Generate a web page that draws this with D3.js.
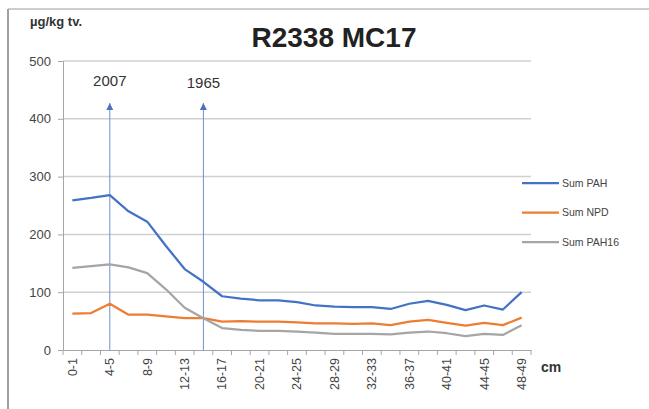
<!DOCTYPE html>
<html>
<head>
<meta charset="utf-8">
<script src="https://cdn.jsdelivr.net/npm/d3@7"></script>
<style>
  body { margin: 0; background: #fff; }
  svg { font-family: "Liberation Sans", Arial, sans-serif; }
</style>
</head>
<body>
<div class="chart"></div>
<script>
// depth intervals (cm)
const categories = ['0-1', '2-3', '4-5', '6-7', '8-9', '10-11', '12-13', '14-15', '16-17', '18-19',
  '20-21', '22-23', '24-25', '26-27', '28-29', '30-31', '32-33', '34-35', '36-37', '38-39',
  '40-41', '42-43', '44-45', '46-47', '48-49'];

// µg/kg tv.
const sumPAH = [259, 263, 268, 240, 222, 180, 140, 118, 93, 89, 86, 86, 83, 77, 75, 74, 74, 71, 80, 85, 78, 69, 77, 70, 100];
const sumNPD = [63, 64, 80, 61, 61, 58, 55, 55, 49, 50, 49, 49, 48, 46, 46, 45, 46, 43, 49, 52, 47, 42, 47, 43, 56];
const sumPAH16 = [142, 145, 148, 143, 133, 105, 73, 55, 38, 35, 33, 33, 32, 30, 28, 28, 28, 27, 30, 32, 29, 24, 28, 26, 43];

const yTicks = [0, 100, 200, 300, 400, 500];
const xLabels = categories.filter((d, i) => i % 2 === 0);

// dating markers
const markers = [{ cat: '4-5', label: '2007' }, { cat: '14-15', label: '1965' }];

const seriesNames = ['Sum PAH', 'Sum NPD', 'Sum PAH16'];
const seriesData = [sumPAH, sumNPD, sumPAH16];
const colors = ['#4472c4', '#ed7d31', '#a5a5a5'];

const width = 649;
const height = 409;
const plotLeft = 63, plotRight = 531, plotTop = 61, plotBottom = 350;

const svg = d3.select('.chart')
  .append('svg')
  .attr('width', width)
  .attr('height', height);

// frame
svg.append('line').attr('x1', 8).attr('x2', width).attr('y1', 9).attr('y2', 9)
  .attr('stroke', '#bdbdbd').attr('stroke-width', 1.5);
svg.append('line').attr('x1', 8).attr('x2', 8).attr('y1', 9).attr('y2', height)
  .attr('stroke', '#a0a0a0').attr('stroke-width', 2);

const xScale = d3.scaleBand()
  .domain(categories)
  .range([plotLeft, plotRight]);

const yScale = d3.scaleLinear()
  .domain([0, 500])
  .range([plotBottom, plotTop]);

// grid
svg.append('g')
  .selectAll('line')
  .data(yTicks.filter(d => d > 0))
  .join('line')
  .attr('x1', plotLeft)
  .attr('x2', plotRight)
  .attr('y1', d => yScale(d))
  .attr('y2', d => yScale(d))
  .attr('stroke', '#d0d0d0')
  .attr('stroke-width', 1.5);

// Y axis
const yAxis = svg.append('g')
  .attr('transform', `translate(${plotLeft}, 0)`)
  .call(d3.axisLeft(yScale).tickValues(yTicks).tickSize(5).tickPadding(7));
yAxis.selectAll('line, path').attr('stroke', '#a6a6a6');
yAxis.selectAll('text').attr('font-size', 13).attr('fill', '#444');

// X axis with ticks at category boundaries
const xAxis = svg.append('g')
  .attr('transform', `translate(0, ${plotBottom})`)
  .call(d3.axisBottom(xScale).tickValues(xLabels).tickSize(0).tickPadding(0));
xAxis.select('path').attr('stroke', '#a6a6a6').attr('stroke-width', 1.2);
xAxis.selectAll('text')
  .attr('font-size', 12.5)
  .attr('fill', '#444')
  .attr('text-anchor', 'end')
  .attr('transform', 'rotate(-90)')
  .attr('x', -8)
  .attr('y', 0)
  .attr('dy', '0.35em');

svg.append('g')
  .selectAll('line')
  .data(categories.concat(['end']))
  .join('line')
  .attr('x1', (d, i) => plotLeft + i * xScale.bandwidth())
  .attr('x2', (d, i) => plotLeft + i * xScale.bandwidth())
  .attr('y1', plotBottom)
  .attr('y2', plotBottom + 5)
  .attr('stroke', '#a6a6a6');

svg.append('text')
  .attr('x', 541)
  .attr('y', 372)
  .attr('font-size', 14)
  .attr('font-weight', 'bold')
  .attr('fill', '#333')
  .text('cm');

// marker lines with arrows
svg.append('defs').append('marker')
  .attr('id', 'arrow')
  .attr('viewBox', '0 0 10 10')
  .attr('refX', 5).attr('refY', 0)
  .attr('markerWidth', 7).attr('markerHeight', 8)
  .attr('markerUnits', 'userSpaceOnUse')
  .attr('orient', '0')
  .append('path')
  .attr('d', 'M0,10 L5,0 L10,10 Z')
  .attr('fill', '#4a72c0');

const markerX = d => xScale(d.cat) + xScale.bandwidth() / 2;

svg.append('g')
  .selectAll('line')
  .data(markers)
  .join('line')
  .attr('x1', markerX)
  .attr('x2', markerX)
  .attr('y1', plotBottom)
  .attr('y2', 103)
  .attr('stroke', '#6f8fcf')
  .attr('stroke-width', 1)
  .attr('marker-end', 'url(#arrow)');

svg.append('g')
  .selectAll('text')
  .data(markers)
  .join('text')
  .attr('x', markerX)
  .attr('y', (d, i) => 86 + i * 2)
  .attr('text-anchor', 'middle')
  .attr('font-size', 15)
  .attr('fill', '#333')
  .text(d => d.label);

// lines
const lineGenerator = d3.line()
  .x((d, i) => xScale(categories[i]) + xScale.bandwidth() / 2)
  .y(d => yScale(d));

svg.append('g')
  .selectAll('path')
  .data(seriesData)
  .join('path')
  .attr('fill', 'none')
  .attr('stroke', (d, i) => colors[i])
  .attr('stroke-width', 2.25)
  .attr('stroke-linejoin', 'round')
  .attr('d', d => lineGenerator(d));

// legend
const legend = svg.append('g')
  .selectAll('g')
  .data(seriesNames)
  .join('g')
  .attr('transform', (d, i) => `translate(522, ${183 + i * 29.5})`);
legend.append('line')
  .attr('x1', 0).attr('x2', 37)
  .attr('stroke', (d, i) => colors[i])
  .attr('stroke-width', 2.25);
legend.append('text')
  .attr('x', 40)
  .attr('dy', '0.35em')
  .attr('font-size', 10.5)
  .attr('fill', '#444')
  .text(d => d);

// titles
svg.append('text')
  .attr('x', 334)
  .attr('y', 47)
  .attr('text-anchor', 'middle')
  .attr('font-size', 28)
  .attr('font-weight', 'bold')
  .attr('fill', '#222')
  .text('R2338 MC17');

svg.append('text')
  .attr('x', 30)
  .attr('y', 26)
  .attr('font-size', 13)
  .attr('font-weight', 'bold')
  .attr('fill', '#333')
  .text('µg/kg tv.');
</script>
</body>
</html>
